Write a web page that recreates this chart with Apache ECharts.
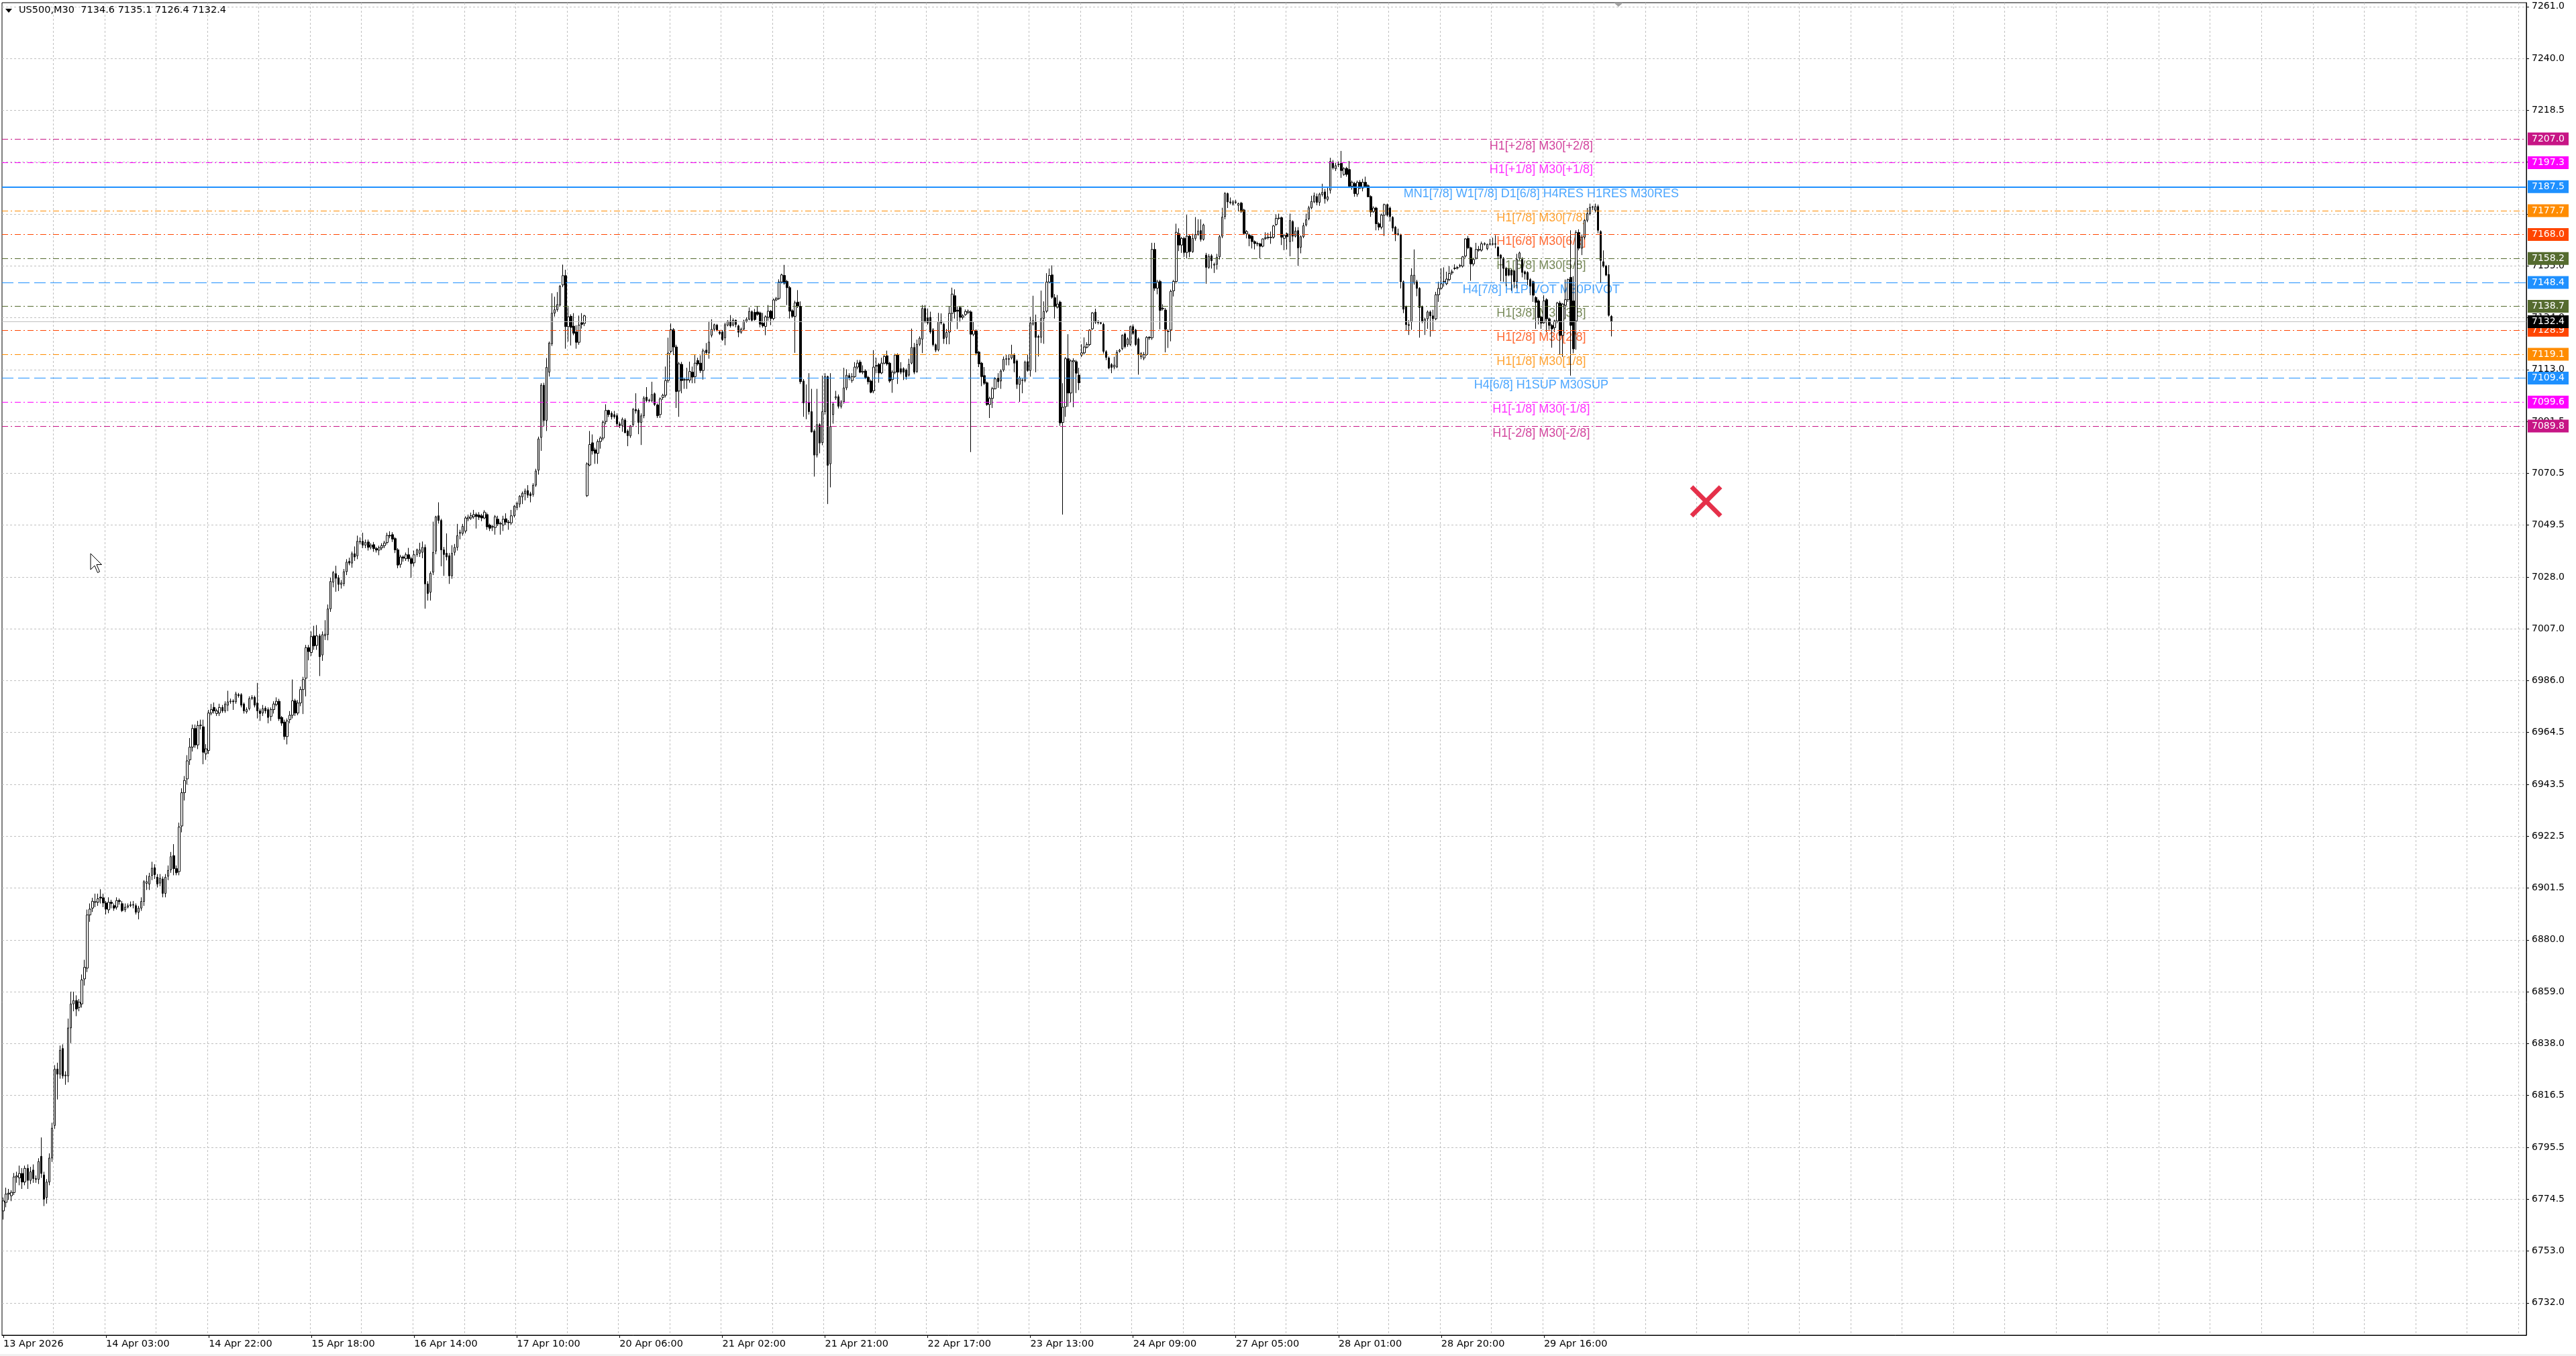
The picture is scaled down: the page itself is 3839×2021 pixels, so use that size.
<!DOCTYPE html>
<html><head><meta charset="utf-8">
<script src="https://cdn.jsdelivr.net/npm/echarts@6/dist/echarts.min.js"></script>
<style>html,body{margin:0;padding:0;background:#fff;}#chart{width:3839px;height:2021px;}</style>
</head><body><div id="chart"></div>
<script>
const symbolName = 'US500';
const timeframe = 'M30';
// [open, high, low, close] per M30 bar
const candles = [
[6769.5,6775,6766,6773.6],[6773,6779,6771,6776.4],[6776.4,6778.5,6774,6776.8],[6775.7,6778,6773.5,6777.1],[6777,6785,6776,6783.4],
[6783.4,6785.5,6781,6783.8],[6783,6788,6780,6784.8],[6784.8,6787,6778.5,6781.3],[6781.3,6788,6780,6786.9],[6786.9,6788.5,6778.5,6782],
[6782,6787.5,6780.5,6785.5],[6786.2,6788.5,6781,6782.7],[6782.7,6784,6781,6782.4],[6782.4,6791,6780.5,6789.7],[6791.8,6799.5,6783,6784.8],
[6784.2,6785.5,6771.5,6774.3],[6775,6782.5,6772.5,6781.3],[6781.3,6793,6780,6791.1],[6791.1,6805.5,6789.5,6803.3],[6804.4,6829,6803,6827.4],
[6827.4,6830,6815,6825.3],[6825.3,6837,6823.5,6835.1],[6835.8,6837.5,6823.5,6824.6],[6824.6,6826.5,6821,6825],[6824.6,6848,6822,6844.2],
[6844.2,6859,6838,6854],[6854,6859,6851,6855.4],[6855.4,6857.5,6849,6851.9],[6852.6,6856,6851,6854.7],[6854,6866,6852.5,6863.8],
[6864.2,6872,6861.5,6868.9],[6868.6,6892.5,6867,6890.3],[6890.3,6895,6887.5,6892.7],[6893.1,6897.3,6891.5,6895.9],[6895.5,6899,6893.5,6895.7],
[6895.5,6899,6894,6896.9],[6897.6,6900.8,6895,6897.2],[6897.3,6899,6893.5,6895.2],[6895.2,6896,6890.5,6892.7],[6892.4,6897.5,6891,6895.5],
[6895.5,6896.5,6893,6895],[6894.1,6895,6892,6893.1],[6893.5,6897.5,6892.5,6896.2],[6896.2,6897,6894.5,6895.8],[6894.9,6896,6891.5,6892.1],
[6892.4,6895,6891.5,6893.5],[6893.5,6895,6893,6894.1],[6894.1,6895.8,6893.5,6894.5],[6894.5,6896,6893,6894.3],[6894.1,6895,6890.5,6891.4],
[6891.4,6894,6888.5,6893.1],[6893.1,6897.5,6892,6895.8],[6895.8,6904.5,6894,6903.9],[6903.2,6906.5,6900.5,6903.9],[6902.9,6907.5,6900.5,6906.1],
[6906.4,6912,6904.5,6909.4],[6909.6,6911,6905,6906.7],[6905.7,6907,6901.5,6902.9],[6903.3,6907,6902,6905.3],[6905,6906,6897.5,6899.1],
[6899.1,6907,6897.5,6905.7],[6906.1,6910.5,6904.5,6908.5],[6908.7,6916,6907.5,6914.1],[6914.5,6919.2,6906.5,6909.2],[6909.2,6910.5,6906.5,6907.5],
[6908,6928,6906.5,6926.2],[6926.6,6942,6924,6940.2],[6940.2,6947,6937,6945.2],[6945.8,6955.5,6943.5,6953.2],[6953.6,6962.5,6951.5,6958.8],
[6958.8,6968,6957,6966.4],[6966.4,6968,6958.5,6959.7],[6959.7,6969.5,6958,6967.6],[6967.6,6970,6966,6967.8],[6967.1,6970,6951.8,6956.7],
[6956,6960,6953.6,6958.1],[6957.4,6974,6956,6972.7],
[6972.7,6976.4,6971.8,6974.1],[6975,6977,6972.5,6973.6],[6972.5,6974.5,6971.5,6973.6],[6972.7,6976.5,6971.5,6975],[6975,6976,6972.8,6973.6],
[6973.6,6977.5,6972.8,6976.4],[6975.9,6981.8,6973.5,6977.3],[6977.3,6978.6,6976.5,6977.6],[6977.6,6978.3,6974,6977.3],[6977.3,6981.4,6976.5,6980.5],
[6980.2,6980.9,6979,6979.8],[6980.2,6980.8,6975,6975.9],[6976.4,6977,6972.5,6973.6],[6973.2,6975,6972.5,6974.1],[6974.5,6979.5,6973.8,6978.6],
[6978.6,6980,6978,6979.1],[6979.1,6979.8,6975,6975.9],[6976.8,6985,6970.5,6973.6],[6973.6,6974.5,6969.5,6972.5],[6972.7,6976,6971.5,6974.5],
[6974.7,6975.5,6972.5,6973.6],[6974.1,6975,6968.5,6970.9],[6971.3,6975,6969.5,6974.1],[6974.1,6977.5,6972.5,6976.4],[6976.2,6979.1,6975.5,6977.5],
[6977.5,6978.5,6969.5,6970.4],[6970.9,6971.5,6967.5,6968.6],[6969,6970,6961.8,6963.1],[6963.1,6970.5,6959.9,6969.5],[6970,6973.5,6968.5,6971.8],
[6971.8,6986.4,6970.5,6977.7],[6977.7,6978.5,6971.5,6972.7],[6972.7,6978,6971.8,6976.8],[6976.8,6983.5,6975.5,6982.3],[6982.3,6987.5,6972.3,6986.4],
[6986.9,7000.5,6979.5,6999.4],[6999.4,7000.5,6994.2,6997.8],[6997.4,7006,6996,7003.9],[7004.2,7008.3,6998.5,7000.1],[7000.3,7008.6,6998.5,7004.2],
[7004.2,7005,6987.8,6995.7],[6996.4,7006,6994,7004.7],[7004.2,7010.6,7002.5,7004.9],[7004.7,7017,7002.4,7015.2],[7015.2,7028,7014,7026.4],
[7026.1,7030.7,7024,7030],[7029.6,7032.8,7022.2,7027.7],[7027.9,7029,7022.5,7025.2],[7025.2,7027,7023.5,7025.8],[7025.5,7031.5,7024.5,7030.4],
[7030.4,7035.5,7029,7034.3],[7034.6,7036.1,7033,7033.9],[7033.9,7038.6,7032,7037.7],[7037.7,7040.7,7034.8,7036.4],[7036.8,7045.1,7035.5,7042.8],
[7042.5,7044.4,7041.5,7042.8],[7042.8,7046.3,7040,7041.2],[7041.2,7043.5,7040,7042.4],[7042.5,7043.5,7039,7040.3],[7040.5,7042,7039.5,7041.2],
[7041.4,7042.5,7038.5,7039.8],[7039.8,7040.5,7038.2,7039.2],[7039.2,7041,7037.1,7040.1],[7040.1,7042,7039.2,7041],[7041,7043,7040,7042.1],
[7042.3,7046.3,7041.5,7045.2],[7045.2,7046.9,7044,7045],[7045.5,7046.5,7042.5,7043.7],[7043.9,7044.5,7038,7039.3],[7039.3,7040,7031.8,7033.1],
[7033.4,7037.3,7032,7036.4],[7036.4,7037,7034.5,7035.9],[7035.7,7038.2,7034.8,7037.3],[7037.3,7040.1,7034.5,7035.7],[7035.7,7036.5,7027.9,7033.7],
[7034,7039,7032.5,7037.3],
[7037.4,7039.8,7036.5,7039.3],[7037.9,7042.2,7036.4,7039.3],[7038.3,7042.7,7035.9,7040.3],[7040.3,7041.5,7015.3,7025.4],[7025.4,7026.5,7018.6,7021.5],
[7022,7030.5,7018.6,7029.7],[7030.2,7050.8,7029,7038.3],[7038.8,7053.2,7037.5,7052.8],[7053.2,7058.7,7050,7051.3],[7051.3,7052,7032.6,7039.3],
[7039.3,7040.5,7028.7,7037.4],[7037.9,7046,7035,7036.4],[7036.9,7038,7025.4,7028.7],[7028.7,7041.2,7027.5,7037.9],[7038.3,7041.7,7037,7040.3],
[7040.3,7049.9,7039,7045.1],[7046,7047.5,7043.6,7046.5],[7046,7049.9,7045.1,7048.9],[7047,7053,7046,7052.3],[7052,7053.7,7051,7052.6],
[7052.3,7054.5,7051.5,7053.2],[7052.8,7055.6,7052,7053.7],[7053.7,7054.5,7048,7052.9],[7053.5,7054.7,7051.5,7052.6],[7053.2,7054,7051,7052.3],
[7052.3,7055.5,7051.8,7054.7],[7053.7,7054.5,7047.5,7048.7],[7049.4,7050,7047,7048.1],[7048.6,7049.5,7047,7048.8],[7048.4,7053.5,7045.5,7052.8],
[7051.8,7053.2,7049,7049.9],[7050.1,7050.8,7045.5,7049.9],[7049.4,7053.2,7047,7051.8],[7052,7054.2,7049.5,7050.6],[7050.6,7051.5,7047.5,7050.4],
[7050.3,7055.6,7049.5,7053.2],[7053.2,7057.6,7052.5,7057.1],[7056.6,7059,7055.5,7058.3],[7058,7061.6,7056.6,7061.2],[7060.9,7063.1,7058,7062.4],
[7062.2,7064.3,7059.5,7063.3],[7063.5,7065.7,7060.5,7061.6],[7062.2,7063,7058.7,7061.4],[7061.9,7066.5,7061,7065.7],[7065.7,7072.4,7065,7071.5],
[7071.8,7085.5,7070,7084.6],[7085.2,7107.3,7079.7,7106.5],[7106.5,7107.5,7089.7,7092.1],[7092.1,7117.6,7087.8,7113.8],[7111.8,7124.3,7110,7123.7],
[7123.4,7144,7122.5,7135.9],[7135.9,7142.6,7134.5,7137.3],[7137.3,7144.5,7136.5,7139.4],[7139.2,7147.4,7138.5,7146.9],[7147.4,7155.7,7146.5,7151.2],
[7151.2,7153.6,7121.4,7130.4],[7130.4,7138.4,7124.3,7134.4],[7134.6,7135.4,7122.7,7130.1],[7130.6,7135.9,7126.9,7127.7],[7128.2,7131,7121.4,7124],
[7124,7134.9,7123,7131],[7132,7135.9,7129.6,7131.3],[7131.7,7135.2,7130.6,7134.8],
[7061.4,7075,7060.9,7074.4],[7073.9,7087.8,7073.4,7082.3],[7083,7086.4,7078.2,7079.7],[7080.1,7081,7074.4,7078.7],[7078.7,7084.4,7074.4,7083.5],
[7083.5,7085.6,7080.6,7084.9],[7084.9,7092.1,7084,7091.4],[7091.7,7098.7,7090.5,7096.2],[7096.2,7096.5,7093.5,7094.5],[7095,7095.8,7092.5,7093.6],
[7094.5,7096,7092.8,7093.6],[7094.1,7095,7089.5,7090.7],[7090.7,7091.5,7089,7090],[7090,7093.3,7087.5,7092.6],[7092.3,7093,7086.9,7087.1],
[7087.8,7088.5,7081.6,7085.9],
[7085.8,7090.2,7085,7089.9],[7090.4,7097.2,7089.5,7096.6],[7096.6,7103.2,7094.9,7096],[7096.3,7097,7086.5,7091.3],[7091.3,7095,7082.1,7094],
[7094,7102,7093,7101.3],[7101.6,7105.7,7099.5,7100.2],[7100.4,7101,7099.5,7100.2],[7100.2,7107.9,7099.5,7102.7],[7103,7103.5,7098,7098.6],
[7098.4,7099,7093.1,7094],[7094.5,7101.5,7093.1,7100.9],[7101.5,7103,7100.5,7102.4],[7102.4,7114.1,7101.5,7108.4],[7108.4,7125.9,7107.5,7119.6],
[7120.3,7131.7,7119.5,7129.1],[7129.1,7129.8,7118.8,7122.1],[7122.1,7123,7097.2,7103.9],[7104.1,7116,7093.6,7115.2],[7115,7116,7103.2,7108.4],
[7108.8,7109.5,7105,7108.6],[7108.6,7113.6,7105,7108.8],[7108.6,7116.1,7107.5,7112.1],[7111.8,7114.1,7107.3,7109.8],[7110,7118.8,7107.3,7115.5],
[7116.6,7117.7,7114.5,7115.2],[7115.5,7118.7,7111.5,7112.5],[7112.5,7121.4,7108.8,7120.5],[7120.8,7123.7,7119,7119.8],[7119.7,7132.6,7117.3,7124.1],
[7126.9,7133.4,7126,7129.3],[7129.3,7131.6,7128.5,7131.2],[7131,7131.5,7128.5,7129.1],[7128.2,7128.9,7127,7127.6],[7128.2,7129,7124.6,7125.1],
[7125.8,7132,7122.8,7131.2],[7131,7133,7130.5,7132.6],[7132.6,7135.1,7130,7130.7],[7131,7133.8,7130.5,7133],[7133,7133.3,7130.1,7131.3],
[7130.7,7131.2,7126.1,7128.1],[7128.1,7130,7127.5,7129.4],[7129.4,7133.2,7129,7132.6],[7132.6,7134.2,7132,7133.4],[7133.4,7138.2,7133,7136.6],
[7136.5,7137,7132.5,7133],[7136.2,7137.6,7132.8,7133.3],[7136.4,7138.7,7134.8,7135.4],[7136,7136.5,7130.1,7131.4],[7131.8,7136,7130,7130.7],
[7130.5,7135,7126.9,7134.4],[7134.2,7139.2,7132.8,7136.7],[7136.7,7137.2,7131,7133.7],[7133.7,7141.9,7133,7141.3],[7141.3,7142.5,7140.8,7141.9],
[7141.9,7149.7,7141.3,7148.6],[7148.6,7152,7148,7151.5],[7151.3,7155.6,7147.5,7148.1],[7148.8,7149.5,7139.2,7146.3],[7146.3,7147,7133.7,7136.7],
[7136.9,7137.5,7134,7134.6],[7134.6,7141,7119.7,7140.1],[7140.4,7145.3,7138,7138.7],[7138.7,7140.7,7107,7107.9],[7108.2,7109,7093.6,7099.3],
[7099.7,7106.8,7092.6,7099.5],[7099.5,7111.4,7094.5,7095.7],[7095.7,7105,7087.2,7087.4],[7087.8,7088.5,7069.2,7078],[7078,7105,7077,7090.4],
[7090.4,7091,7078.7,7082.9],[7083.1,7110.4,7082,7095.7],[7095.7,7111.4,7094.5,7110],[7110,7110.4,7058,7073.8],[7074.4,7111.4,7064.8,7089.6],
[7094.5,7099.5,7090.8,7098.8],[7101.3,7104.2,7100.5,7101.8],[7101.8,7102.7,7097,7097.9],[7097.9,7100.4,7097,7099.7],[7099.7,7113.6,7099,7105.4],
[7105.4,7113,7104.5,7110.6],[7110.4,7111.4,7108.5,7109.5],[7108.4,7111.4,7107.5,7110],[7110,7115.9,7109.5,7113.9],[7113.9,7116.8,7113,7115.5],
[7115.9,7116.8,7111.4,7111.8],[7111.8,7114.6,7111,7112.1],[7112.3,7113,7109,7109.7],[7109.7,7110.3,7106.8,7107.9],[7108.2,7108.8,7103.2,7103.6],
[7104.2,7120.8,7103.2,7113.9],[7114.5,7117.7,7111.4,7114.3],[7115,7115.6,7107.5,7111.5],[7111.5,7117.7,7111,7115.5],[7115.5,7119.1,7115,7118.2],
[7118.5,7120.6,7114.5,7115.2],[7115.5,7116,7107.5,7108.2],[7108.8,7112.5,7103.4,7111.8],[7111.8,7119.3,7111,7118.8],[7118.8,7119.5,7107,7111.8],
[7113.2,7115.9,7111,7111.8],[7113.2,7113.8,7108.6,7111.8],[7112.7,7113.3,7108.8,7110],[7110.6,7117.3,7110,7115],[7115.5,7129.6,7115,7121.9],
[7121.9,7123.7,7111,7111.8],[7112.1,7125.1,7111.5,7123.2],[7123.2,7126.4,7122.5,7125.7],[7125.3,7139.2,7119.6,7137.8],[7137.8,7139.2,7131.8,7132.4],
[7134,7137.8,7131.2,7131.9],[7134.2,7136.5,7127.5,7128.2],[7129.1,7129.8,7122.3,7123],[7123,7123.5,7120,7120.8],[7120.9,7136,7120.3,7132.4],
[7132.6,7135.8,7131.2,7131.9],[7131.4,7132,7123.4,7125.5],[7126,7129.4,7123.2,7128],[7128.2,7138.7,7123.2,7135.8],[7135.8,7146.3,7132.2,7143.7],
[7143,7145.6,7133.7,7136.5],[7137.1,7138.7,7129.4,7136.7],[7138.2,7138.8,7132.2,7134.2],[7134.2,7135.5,7133.3,7134.8],[7135.3,7137.4,7134.8,7136.6],
[7136.2,7137.4,7135.5,7136.7],[7136.4,7137,7079.2,7127.3],[7127.3,7132.4,7126.5,7128.9],[7128.7,7129.3,7118.7,7119.6],[7120,7120.5,7113.9,7115.2],
[7115.5,7116,7106.1,7110],[7110.4,7113.9,7106.6,7107.3],[7107.5,7108,7098.1,7098.6],[7098.6,7101.8,7093.1,7101.1],[7101.1,7105.8,7097.2,7105.1],
[7105,7109.8,7104.8,7109.1],[7109.4,7111.4,7105.4,7107.9],[7108.2,7113,7105,7112.3],[7112.7,7118.2,7112,7117.1],[7117.1,7119.1,7114.6,7117.3],
[7117.3,7119.1,7114.6,7117.1],[7117.6,7123,7117,7119],[7118.8,7119.5,7111.8,7115.5],[7116.4,7117,7105,7106.8],[7106.8,7110.2,7099.7,7109.5],
[7108.4,7109.2,7103.2,7108.6],[7108.4,7116.5,7107.7,7115.9],[7116.1,7119.1,7112,7112.5],[7112.5,7134.4,7110,7131.9],
[7131.4,7143,7130.8,7132.8],[7132.5,7135.3,7111.8,7126],[7126.4,7127.1,7118.2,7126],[7126.1,7145.1,7123.7,7133.7],[7133.7,7140.7,7123.4,7136.6],
[7136.7,7152.2,7136,7148.6],[7148.6,7154.1,7148,7151.3],[7151.5,7155.4,7141.8,7142.4],[7142.2,7143.7,7133.7,7138.6],[7138.3,7143.3,7137.8,7139.6],
[7140.4,7141,7089.9,7091.1],[7091.3,7107.3,7053.7,7097.5],[7097.7,7118,7093.6,7117.3],[7117.3,7127.3,7097.7,7103.3],[7103.3,7117,7099.5,7116.4],
[7116.1,7117.5,7097.5,7116.6],[7116.1,7116.8,7103.3,7111.4],[7110.6,7113.6,7104.5,7107.5],[7118.8,7123.2,7118,7119.7],[7119.7,7126,7119,7122.1],
[7122,7124,7121.5,7123.1],[7123.1,7129.3,7122.5,7129],[7129.5,7136.3,7129,7136],[7136.3,7137.7,7131.5,7132.2],[7132.4,7133,7131.3,7132],
[7132,7132.5,7131.3,7131.7],[7131.3,7132,7119.4,7120.3],[7120.2,7120.8,7116.7,7117.8],[7117.6,7118.2,7113,7113.5],[7114.9,7115.5,7111.4,7113.8],
[7113.9,7118.1,7113,7114.7],[7113.9,7120.8,7113.5,7119.9],[7120.3,7121.3,7119.8,7120.8],[7121.4,7127.2,7120.8,7126.9],[7127.4,7128,7121.5,7122.2],
[7123.1,7126,7122.2,7125.4],[7123.1,7130.8,7122.5,7130.4],[7130.4,7131.3,7127,7127.6],[7129,7129.5,7122.5,7123.1],[7125.4,7126,7110.8,7119],
[7118.1,7120,7117.1,7119.4],[7117.6,7120,7116.7,7119],[7119,7126.5,7118.5,7126],[7126,7126.5,7125,7125.8],[7125.8,7164.6,7125,7161.9],
[7161.9,7164.6,7145,7146.1],[7146.1,7149.5,7143.6,7148.6],[7148.8,7149.5,7129.3,7137],[7137.9,7139.5,7137,7137.7],[7137.2,7138,7119.9,7129.3],
[7128.6,7129.3,7121.7,7128.4],[7129,7145.5,7124.4,7144.8],[7145,7149.5,7142.7,7148.8],[7148.8,7172.4,7148,7168.9],[7168.3,7170.5,7161.2,7163.7],
[7163.7,7167,7160.5,7166.4],[7166.4,7167,7158.9,7160.7],[7160.7,7176,7158.2,7167.3],[7167.3,7168,7158.7,7161],[7161,7168.3,7160.5,7166.4],
[7166.4,7175.1,7165.5,7168],[7168,7174.2,7167.5,7169.4],[7169.6,7174.2,7165.1,7166],[7166,7172.4,7165.5,7171.9],
[7159.6,7160.5,7147.9,7154.6],[7154.6,7160,7154,7159.1],[7159.3,7160,7154.1,7157.3],[7155.5,7156.5,7152.3,7155.8],[7155.8,7160.1,7153.7,7158.7],
[7158.9,7167.8,7157.8,7167.1],[7167.3,7178.9,7166.5,7175.1],[7175.3,7185.3,7174.2,7184.7],[7184.7,7185.1,7178.8,7181.3],[7181.3,7183.1,7180.3,7181],
[7180.4,7182,7179.8,7181.3],[7181.3,7182.2,7180.5,7181.1],[7179.9,7181,7177.4,7180.6],[7180.8,7181.3,7176.8,7177.4],[7178,7178.5,7168.2,7168.4],
[7168.3,7169.8,7166.4,7169.2],[7167.8,7168.3,7163.2,7166.4],[7167.3,7167.8,7162.3,7165.1],[7165.1,7165.6,7161.9,7164.3],[7164.3,7165,7163.2,7164.2],
[7164.2,7164.6,7158.2,7163.2],[7163.2,7166.4,7162.8,7166.2],[7166.4,7168.9,7165.8,7166.7],[7166.7,7168.7,7166,7166.9],[7166.7,7169.2,7164.2,7166.9],
[7166.9,7171.9,7166.3,7171.5],[7172.1,7176.2,7171.5,7174.6],[7174.6,7176.5,7174,7174.7],[7174.9,7175.3,7163.7,7166.9],[7166.4,7168.2,7161.6,7167.6],
[7168.3,7168.8,7161.9,7167.1],[7165.1,7176.5,7159.1,7173.7],[7173.3,7173.8,7165.1,7167.3],[7167.3,7171,7166.8,7169.4],[7169.6,7171,7155.2,7162.5],
[7162.8,7167.6,7160.3,7167.1],[7167.1,7172.8,7166.5,7171.6],[7171.9,7176.5,7171.3,7174],[7174.4,7179.7,7173.8,7178.9],[7178.9,7183.8,7178.3,7181.5],
[7181.3,7185.1,7180.8,7183.8],
[7183.5,7184.7,7179.9,7181.1],[7181.1,7185,7179.7,7184.5],[7184.3,7188.7,7183.5,7185.2],[7185.4,7186.6,7180.6,7182.6],[7182.3,7187.2,7181.5,7183.4],
[7186.1,7199.3,7184.7,7197.8],[7197.5,7198.4,7194.5,7195.2],[7194.8,7197.2,7193.9,7196.1],[7196.6,7197.8,7195.5,7196.6],[7197.1,7202.1,7191.1,7194.1],
[7192.5,7195.5,7192,7194.8],[7195,7195.6,7191.6,7192.5],[7194.5,7198,7187,7187.7],[7187.7,7190,7186.3,7189.3],[7188.8,7189.5,7183.4,7184.7],
[7184.5,7190,7183.4,7189.3],[7189.3,7190.2,7186.5,7187],[7187,7190.7,7185.6,7189.3],[7189.3,7191.6,7187,7187.5],[7187.9,7188.5,7183.2,7183.4],
[7183.5,7184,7175.2,7177.2],[7177.4,7179.5,7176.8,7178.8],[7178.8,7179.3,7169.7,7172.4],[7172.4,7173,7169.7,7171],[7171,7176.5,7170.1,7175.9],
[7175.9,7180.6,7167.4,7180.2],[7180.2,7180.6,7175.3,7175.9],[7178.8,7179.4,7173.3,7175.3],[7175,7175.5,7169.2,7170.6],[7171,7171.5,7165.3,7168],
[7168.3,7170.4,7167.5,7168],[7167.9,7168.3,7146,7148.7],[7148.7,7149.2,7135.9,7137.5],[7138.6,7139,7128.8,7131.2],[7131.2,7133,7127,7130.9],
[7132.3,7154.2,7129.1,7151.4],[7148.2,7161.9,7147.5,7151.4],[7148.7,7149.5,7142.8,7146],[7146,7146.5,7125.9,7138.2],[7138.6,7139,7131.8,7132.7],
[7132.3,7134,7127,7133.4],[7133.6,7137,7129.5,7136.4],[7136.4,7137,7126.3,7134.8],[7134.8,7137.3,7128.6,7133.6],[7133.6,7144.6,7133,7143.4],
[7143.4,7148.7,7140.5,7146],[7146.1,7154.2,7145.5,7147.9],[7148.9,7154.6,7146.7,7148.7],[7147.9,7152.8,7147.3,7149.8],[7149.6,7155.1,7149,7152.1],
[7152.3,7153.7,7151.5,7152.8],[7154.3,7155.8,7153.5,7154.1],[7154.3,7155.1,7153.7,7154.5],[7155.1,7156,7154.5,7155.3],[7155.1,7159.2,7154.5,7158.9],
[7159.2,7166.5,7158.5,7166.2],[7166.4,7167.4,7162,7162.6],[7162.6,7163,7149.1,7156],[7156,7158.5,7155.1,7157.8],[7158.3,7164.6,7157.8,7161.9],
[7161.6,7163.3,7161,7161.9],[7161.6,7165.1,7161,7164.2],[7164,7164.8,7163.5,7164.3],[7162.2,7164.2,7161.6,7164],[7164,7166.2,7163.5,7164.2],
[7164,7166.7,7163.5,7164.2],[7164.2,7167.7,7162.4,7164],[7162.8,7163.3,7157.8,7159.2],[7159.6,7160,7148.9,7158.3],[7158.3,7158.8,7148.7,7154.2],
[7154.2,7154.8,7146.9,7151.2],[7153.7,7154.2,7151,7151.4],[7153.4,7154,7145,7151.4],[7153.1,7153.6,7146.1,7148.7],[7148.7,7160.1,7146,7157.8],
[7158.3,7161,7157.5,7160.5],[7157.8,7158.7,7150.5,7152.5],[7152.8,7153.3,7149.6,7151.9],[7152.5,7153,7147.3,7149.6],[7149.6,7150.2,7143.2,7146.9],
[7148.7,7149.2,7140.5,7143.2],[7142.3,7142.8,7129.5,7140.3],[7140.9,7141.5,7131.3,7134.1],[7134.3,7134.8,7129.5,7131.8],[7132,7143.2,7131.5,7140.9],
[7141.4,7142,7128.2,7133.6],[7133.6,7134,7129.1,7130.9],[7130.9,7131.5,7121.8,7129.5],[7130,7133.2,7128.2,7132.7],[7132.7,7140.5,7131.8,7140],
[7140,7140.9,7119,7126.8],[7126.8,7140,7118.1,7139.6],[7139.1,7149.6,7133.6,7141.4],[7141.4,7150,7140.5,7149.6],[7150.5,7169.7,7110.4,7130.9],
[7140.9,7151,7119.5,7121.3],[7132.7,7169.7,7121,7168.8],[7168.8,7170.1,7161.5,7162.4],[7162.4,7168,7159.6,7166.9],[7166.9,7174.2,7166,7173.8],
[7173.8,7178.8,7173,7176.5],[7176.5,7180.6,7175.8,7179.1],[7179.1,7179.7,7178,7179.3],[7177.9,7180.6,7177,7179.4],[7179.4,7180.2,7168.5,7169.7],
[7169.2,7169.7,7148.2,7157.4],[7156.9,7161.5,7154.5,7155.1],[7155.1,7155.6,7151,7151.4],[7151.7,7155.5,7134.5,7135],[7134.6,7135.1,7126.4,7132.4]
];
const xTickLabels = ['13 Apr 2026','14 Apr 03:00','14 Apr 22:00','15 Apr 18:00','16 Apr 14:00','17 Apr 10:00','20 Apr 06:00','21 Apr 02:00',
  '21 Apr 21:00','22 Apr 17:00','23 Apr 13:00','24 Apr 09:00','27 Apr 05:00','28 Apr 01:00','28 Apr 20:00','29 Apr 16:00'];
const barsPerLabel = 38;
const barsPerGridLine = 19;
const totalSlots = 934;
const yMin = 6718.8, yMax = 7262.6;
const yTickValues = [6732.0,6753.16,6774.32,6795.48,6816.64,6837.8,6858.96,6880.12,6901.28,6922.44,6943.6,6964.76,6985.92,
  7007.08,7028.24,7049.4,7070.56,7091.72,7112.88,7134.04,7155.2,7176.36,7197.52,7218.68,7239.84,7261.0];
const yTickLabels = ['6732.0','6753.0','6774.5','6795.5','6816.5','6838.0','6859.0','6880.0','6901.5','6922.5','6943.5','6964.5','6986.0',
  '7007.0','7028.0','7049.5','7070.5','7091.5','7113.0','7134.0','7155.0','7176.5','7197.5','7218.5','7240.0','7261.0'];
const levelPrices = [7207.0,7197.3,7187.5,7177.7,7168.0,7158.2,7148.4,7138.7,7128.9,7119.1,7109.4,7099.6,7089.8];
const levelNames = ['H1[+2/8] M30[+2/8]','H1[+1/8] M30[+1/8]','MN1[7/8] W1[7/8] D1[6/8] H4RES H1RES M30RES','H1[7/8] M30[7/8]',
  'H1[6/8] M30[6/8]','H1[5/8] M30[5/8]','H4[7/8] H1PIVOT M30PIVOT','H1[3/8] M30[3/8]','H1[2/8] M30[2/8]','H1[1/8] M30[1/8]',
  'H4[6/8] H1SUP M30SUP','H1[-1/8] M30[-1/8]','H1[-2/8] M30[-2/8]'];
const levelLabelBar = 569;
const crossMarker = [[630, 7059.1]];

// styles
const levelColors = ['#C71585','#FF00FF','#1E90FF','#FF8C00','#FF4500','#556B2F','#1E90FF','#556B2F','#FF4500','#FF8C00','#1E90FF','#FF00FF','#C71585'];
const levelStyle = ['dashdot','dashdot','solid','dashdot','dashdot','dashdot','dash','dashdot','dashdot','dashdot','dash','dashdot','dashdot'];
const AXIS_FONT = '"DejaVu Sans", Verdana, sans-serif';
const TEXT_FONT = '"Liberation Sans", Arial, sans-serif';

const categories = [];
for (let i = 0; i < totalSlots; i++) {
  const k = i / barsPerLabel;
  categories.push(i % barsPerLabel === 0 && k < xTickLabels.length ? xTickLabels[k] : '');
}
const ohlc = candles.map(c => [c[0], c[3], c[2], c[1]]);
const last = candles[candles.length - 1];
const currentPrice = last[3];
const header = symbolName + ',' + timeframe + '  ' + last.map(v => v.toFixed(1)).join(' ');

function dashOf(s) { return s === 'solid' ? 'solid' : (s === 'dash' ? [17, 7] : [9, 4, 2, 4]); }
function tagLabel(text, bg) {
  return { show: true, position: 'end', distance: 2, formatter: text, color: '#fff', backgroundColor: bg,
    padding: [1, 6, 1, 6], fontSize: 14, lineHeight: 17, fontFamily: AXIS_FONT };
}
const lineData = levelPrices.map((p, i) => ({
  yAxis: p,
  lineStyle: { color: levelColors[i], width: levelStyle[i] === 'solid' ? 2 : 1, type: dashOf(levelStyle[i]) },
  label: tagLabel(p.toFixed(1), levelColors[i])
}));
lineData.push({ yAxis: currentPrice, lineStyle: { color: '#C0C0C0', width: 1, type: 'solid' }, label: tagLabel(currentPrice.toFixed(1), '#000') });

const chart = echarts.init(document.getElementById('chart'));
chart.setOption({
  animation: false,
  backgroundColor: '#ffffff',
  grid: { left: 3, right: 74, top: 4, bottom: 31, show: true, borderColor: '#000', borderWidth: 1, backgroundColor: '#fff' },
  xAxis: {
    type: 'category', data: categories, boundaryGap: true,
    axisLine: { show: true, lineStyle: { color: '#000', width: 1 } },
    axisTick: { show: true, alignWithLabel: true, length: 4, lineStyle: { color: '#000' },
      interval: (i) => i % barsPerLabel === 0 && categories[i] !== '' },
    axisLabel: { show: true, interval: (i) => i % barsPerLabel === 0 && categories[i] !== '', align: 'left', margin: 6,
      color: '#000', fontSize: 14.5, fontFamily: AXIS_FONT },
    splitLine: { show: true, interval: (i) => i % barsPerGridLine === 0 && i > 0, lineStyle: { color: '#c0c0c0', type: [3, 3], width: 1 } }
  },
  yAxis: {
    type: 'value', position: 'right', min: yMin, max: yMax, scale: true,
    axisLine: { show: true, lineStyle: { color: '#000', width: 1 } },
    axisTick: { show: true, length: 4, lineStyle: { color: '#000' }, customValues: yTickValues },
    axisLabel: { show: true, customValues: yTickValues, margin: 8, color: '#000', fontSize: 14, fontFamily: AXIS_FONT,
      formatter: (v) => { let best = 0; for (let i = 1; i < yTickValues.length; i++) if (Math.abs(yTickValues[i] - v) < Math.abs(yTickValues[best] - v)) best = i; return yTickLabels[best]; } },
    splitLine: { show: true, lineStyle: { color: '#c0c0c0', type: [3, 3], width: 1 } }
  },
  series: [
    {
      type: 'candlestick', name: symbolName, data: ohlc, z: 3, barWidth: 3, large: false,
      itemStyle: { color: '#ffffff', color0: '#000000', borderColor: '#000000', borderColor0: '#000000', borderWidth: 1 }
    },
    {
      type: 'scatter', name: 'levels', z: 1, symbolSize: 0, silent: true,
      data: levelPrices.map((p, i) => ({ value: [levelLabelBar, p], label: { formatter: levelNames[i], color: levelColors[i] } })),
      label: { show: true, position: 'bottom', distance: 0, fontSize: 18, lineHeight: 21, fontFamily: TEXT_FONT },
      markLine: { symbol: ['none', 'none'], silent: true, z: 5, animation: false, data: lineData }
    },
    {
      type: 'scatter', name: 'cross', z: 6, silent: true, data: crossMarker, symbolSize: 48,
      symbol: 'path://M2,0 L10,8 L18,0 L20,2 L12,10 L20,18 L18,20 L10,12 L2,20 L0,18 L8,10 L0,2 Z',
      itemStyle: { color: '#E5304A', opacity: 1 }
    }
  ],
  graphic: [
    { type: 'polygon', shape: { points: [[8, 13], [18, 13], [13, 19]] }, style: { fill: '#000' }, z: 100 },
    { type: 'text', left: 28, top: 8, style: { text: header, font: '14.5px ' + AXIS_FONT, fill: '#000' }, z: 100 },
    { type: 'polygon', shape: { points: [[2405, 4], [2419, 4], [2412, 10]] }, style: { fill: '#a0a0a0' }, z: 100 },
    { type: 'polygon', shape: { points: [[135, 825], [135, 849], [141, 843], [145.5, 853.5], [148.5, 852], [144, 841.5], [151.5, 841.5]] },
      style: { fill: '#fff', stroke: '#000', lineWidth: 1 }, z: 100 },
    { type: 'rect', shape: { x: 0, y: 2018, width: 3839, height: 3 }, style: { fill: '#f0f0f0' }, z: 100 }
  ]
});
</script></body></html>
